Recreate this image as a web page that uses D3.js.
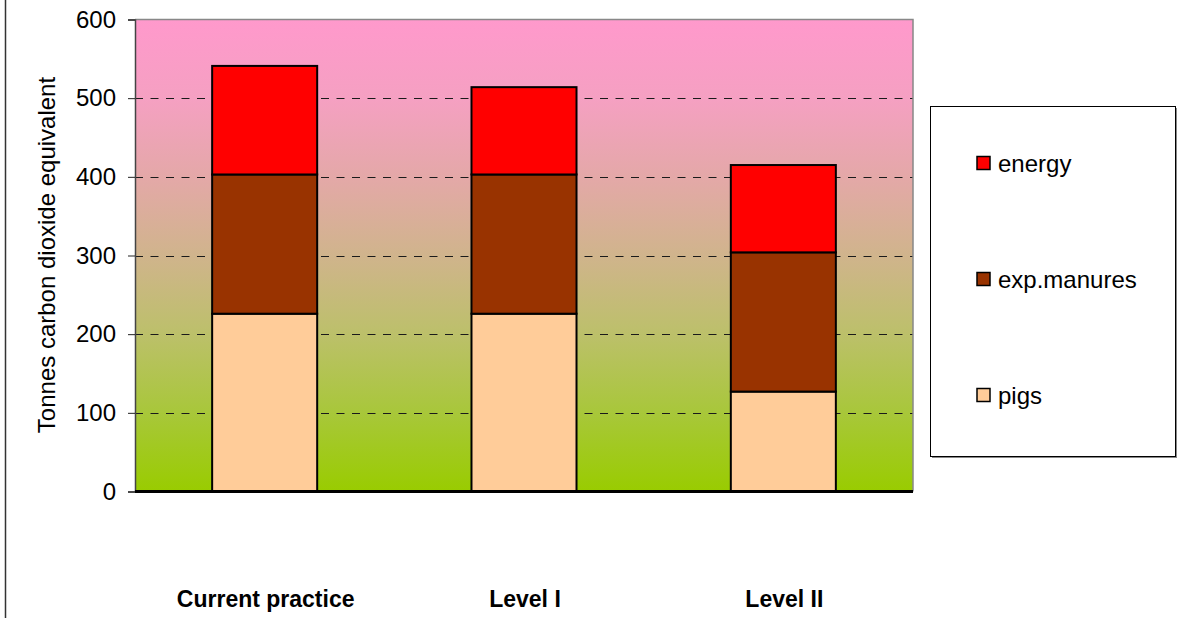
<!DOCTYPE html>
<html>
<head>
<meta charset="utf-8">
<script src="https://cdn.jsdelivr.net/npm/d3@7"></script>
<style>
  html, body { margin: 0; padding: 0; background: #fff; }
  svg { display: block; font-family: "Liberation Sans", Arial, sans-serif; }
</style>
</head>
<body>
<svg id="chart" width="1178" height="618"></svg>
<script>
// Scenario names along the x axis
const categories = ["Current practice", "Level I", "Level II"];
// Stacked emission sources (bottom to top), tonnes CO2 equivalent
const seriesNames = ["pigs", "exp.manures", "energy"];
const pigs = [226, 226, 127];
const expManures = [177, 177, 177];
const energy = [138, 111, 111];
const yTicks = [0, 100, 200, 300, 400, 500, 600];
const colors = { "pigs": "#FFCC99", "exp.manures": "#993300", "energy": "#FF0000" };

const svg = d3.select("#chart");
const plot = { left: 135, right: 913, top: 19.5, bottom: 491.5 };

// Background gradient of the plot area: pink at the top fading to green
const defs = svg.append("defs");
const grad = defs.append("linearGradient")
  .attr("id", "bg").attr("x1", 0).attr("y1", 0).attr("x2", 0).attr("y2", 1);
const gradStops = [
  [0, "#FF99CC"], [0.167, "#F5A0C2"], [0.333, "#E4A8A8"],
  [0.5, "#D0B48C"], [0.667, "#BCC06A"], [0.833, "#A8C73A"], [1, "#99CC00"]
];
grad.selectAll("stop").data(gradStops).join("stop")
  .attr("offset", d => d[0]).attr("stop-color", d => d[1]);

// Outer frame line on the left
svg.append("line")
  .attr("x1", 5.5).attr("x2", 5.5).attr("y1", 0).attr("y2", 618)
  .attr("stroke", "#333").attr("stroke-width", 1.5);

const x = d3.scaleBand().domain(categories).range([plot.left, plot.right]).padding(0);
const y = d3.scaleLinear().domain([0, 600]).range([plot.bottom, plot.top]);

svg.append("rect")
  .attr("x", plot.left).attr("y", plot.top)
  .attr("width", plot.right - plot.left).attr("height", plot.bottom - plot.top)
  .attr("fill", "url(#bg)");

// Dashed gridlines
svg.append("g").selectAll("line")
  .data(yTicks.filter(d => d > 0 && d < 600))
  .join("line")
  .attr("x1", plot.left).attr("x2", plot.right)
  .attr("y1", d => Math.round(y(d)) + 0.5).attr("y2", d => Math.round(y(d)) + 0.5)
  .attr("stroke", "#1a1a1a").attr("stroke-width", 1)
  .attr("stroke-dasharray", "8,7.5");

// Plot border (top and right in grey)
svg.append("path")
  .attr("d", `M${plot.left},${plot.top}H${plot.right}V${plot.bottom}`)
  .attr("fill", "none").attr("stroke", "#888").attr("stroke-width", 1.5);

// Stacked bars
const rows = categories.map((c, i) => ({ cat: c, "pigs": pigs[i], "exp.manures": expManures[i], "energy": energy[i] }));
const stacked = d3.stack().keys(seriesNames)(rows);
const barW = x.bandwidth() * 0.405;

svg.append("g").selectAll("g")
  .data(stacked)
  .join("g")
  .attr("fill", d => colors[d.key])
  .selectAll("rect")
  .data(d => d)
  .join("rect")
  .attr("x", d => x(d.data.cat) + x.bandwidth() / 2 - barW / 2)
  .attr("y", d => y(d[1]))
  .attr("width", barW)
  .attr("height", d => y(d[0]) - y(d[1]))
  .attr("stroke", "#000").attr("stroke-width", 2);

// Y axis
const yAxis = d3.axisLeft(y).tickValues(yTicks).tickSize(7).tickPadding(12);
const gy = svg.append("g").attr("transform", `translate(${plot.left},0)`).call(yAxis);
gy.select(".domain").attr("stroke", "#444").attr("stroke-width", 1.5);
gy.selectAll(".tick line").attr("stroke", "#222");
gy.selectAll(".tick text").attr("font-size", 24).attr("fill", "#000")
  .attr("font-family", "Liberation Sans, Arial, sans-serif");

// Baseline
svg.append("line")
  .attr("x1", plot.left).attr("x2", plot.right)
  .attr("y1", y(0)).attr("y2", y(0))
  .attr("stroke", "#000").attr("stroke-width", 3);

// Y axis title
svg.append("text")
  .attr("transform", `translate(55,255) rotate(-90)`)
  .attr("text-anchor", "middle")
  .attr("font-size", 24)
  .text("Tonnes carbon dioxide equivalent");

// Category labels
svg.append("g").selectAll("text")
  .data(categories)
  .join("text")
  .attr("x", d => x(d) + x.bandwidth() / 2 + 1)
  .attr("y", 607)
  .attr("text-anchor", "middle")
  .attr("font-size", 23)
  .attr("font-weight", "bold")
  .text(d => d);

// Legend
const lg = svg.append("g");
lg.append("rect")
  .attr("x", 932).attr("y", 108).attr("width", 245).attr("height", 350)
  .attr("fill", "#888");
lg.append("rect")
  .attr("x", 930.5).attr("y", 106.5).attr("width", 245).attr("height", 350)
  .attr("fill", "#fff").attr("stroke", "#000").attr("stroke-width", 1);

const legendItems = ["energy", "exp.manures", "pigs"];
const legendY = d3.scalePoint().domain(legendItems).range([163, 395]);
const li = lg.selectAll("g.item").data(legendItems).join("g").attr("class", "item")
  .attr("transform", d => `translate(0,${legendY(d)})`);
li.append("rect")
  .attr("x", 977).attr("y", -6.5).attr("width", 13).attr("height", 13)
  .attr("fill", d => colors[d]).attr("stroke", "#000").attr("stroke-width", 1.5);
li.append("text")
  .attr("x", 998).attr("y", 8.5)
  .attr("font-size", 24)
  .text(d => d);
</script>
</body>
</html>
